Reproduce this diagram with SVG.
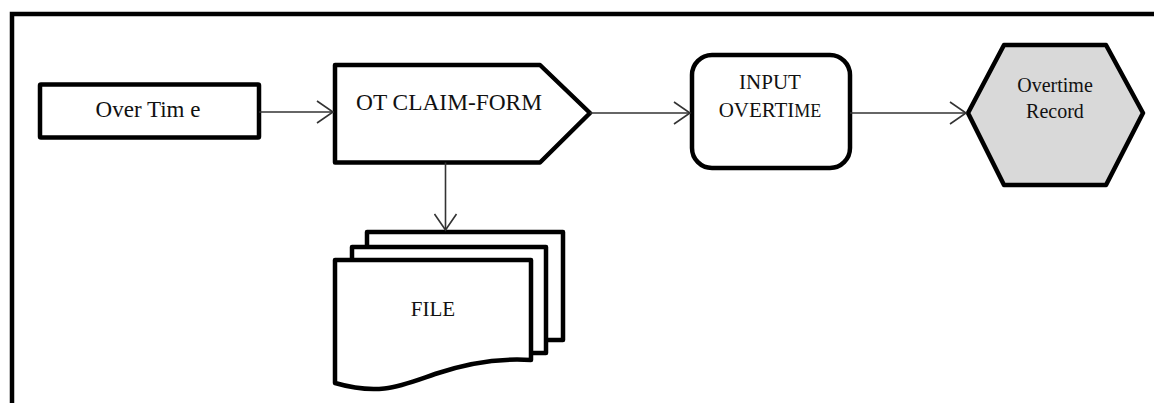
<svg xmlns="http://www.w3.org/2000/svg" width="1154" height="403" viewBox="0 0 1154 403">
<defs>
<style>
.node{fill:#fff;stroke:#000;stroke-width:4.5;stroke-linejoin:round}
.lbl{font-family:"Liberation Serif","Times New Roman",serif;fill:#111;text-anchor:middle}
.con{fill:none;stroke:#333;stroke-width:1.6}
</style>
<marker id="arr" viewBox="0 0 20 24" refX="18" refY="12" markerWidth="20" markerHeight="24" markerUnits="userSpaceOnUse" orient="auto">
<path d="M2,1 L18,12 L2,23" fill="none" stroke="#333" stroke-width="1.6"/>
</marker>
</defs>
<rect width="1154" height="403" fill="#fff"/>
<path id="frame" d="M12,420 V14 H1170" fill="none" stroke="#000" stroke-width="4.5"/>
<g id="n-overtime">
<rect class="node" x="40" y="84.5" width="219" height="53" rx="1"/>
<text class="lbl" x="148" y="117" font-size="23">Over Tim e</text>
</g>
<g id="n-claimform">
<path class="node" d="M335,65 H540 L590,113 L540,162.5 H335 Z"/>
<text class="lbl" x="449" y="110" font-size="23" textLength="186" lengthAdjust="spacingAndGlyphs">OT CLAIM-FORM</text>
</g>
<g id="n-input">
<rect class="node" x="692" y="55" width="158" height="113" rx="20"/>
<text class="lbl" x="770" y="89" font-size="21">INPUT</text>
<text class="lbl" x="770" y="117" font-size="21">OVERTI<tspan font-size="18">ME</tspan></text>
</g>
<g id="n-record">
<path class="node" d="M968,113 L1004,45 H1106 L1143,113 L1106,185 H1004 Z" style="fill:#d9d9d9"/>
<text class="lbl" x="1055" y="92" font-size="20">Overtime</text>
<text class="lbl" x="1055" y="118" font-size="20">Record</text>
</g>
<g id="n-file">
<rect class="node" x="367" y="232" width="196" height="108"/>
<rect class="node" x="352" y="247" width="194" height="106"/>
<path class="node" d="M335,260 H531 V360 C500,358 470,362 435,374 C400,386 380,396 335,383 Z"/>
<text class="lbl" x="433" y="316" font-size="21">FILE</text>
</g>
<g id="connectors">
<line class="con" x1="259" y1="112" x2="333" y2="112" marker-end="url(#arr)"/>
<line class="con" x1="590" y1="113" x2="690" y2="113" marker-end="url(#arr)"/>
<line class="con" x1="850" y1="113" x2="966" y2="113" marker-end="url(#arr)"/>
<line class="con" x1="445.5" y1="162.5" x2="445.5" y2="230" marker-end="url(#arr)"/>
</g>
</svg>
